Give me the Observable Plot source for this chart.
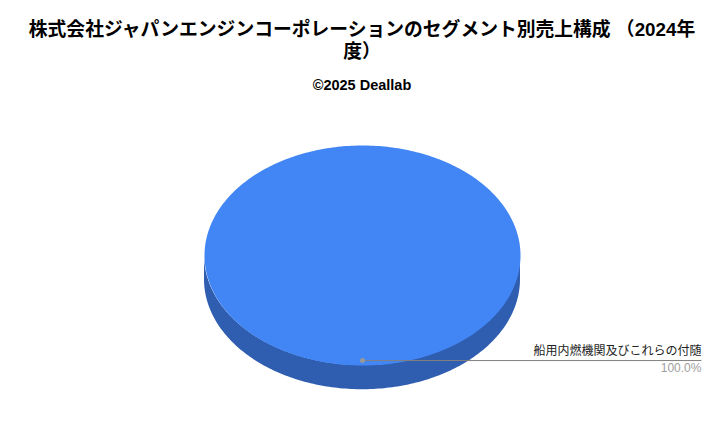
<!DOCTYPE html>
<html><head><meta charset="utf-8">
<script src="https://cdn.jsdelivr.net/npm/d3@7"></script>
<script src="https://cdn.jsdelivr.net/npm/@observablehq/plot@0.6"></script>
<style>
body{margin:0;background:#fff;width:724px;overflow:hidden;font-family:"Liberation Sans",Arial,"Noto Sans CJK JP",sans-serif;}
#head{height:100px;text-align:center;}
#t{font-weight:bold;font-size:18.8px;line-height:22px;padding-top:19px;color:#000;white-space:nowrap;}
#s{font-weight:bold;font-size:14.5px;margin-top:14px;color:#000;}
</style></head>
<body>
<div id="head"><div id="t">株式会社ジャパンエンジンコーポレーションのセグメント別売上構成 （2024年<br>度）</div><div id="s">©2025 Deallab</div></div>
<div id="chart"></div>
<script>
const segments = ["船用内燃機関及びこれらの付随"];
const values = [100];
const percentLabels = ["100.0%"];

const topColor = "#4285f4";
const sideColor = "#2f5eb0";
const depth = 0.22;          // pie thickness in y-domain units
const labelX = 2.145;        // leader line end, in x-domain units

const arcs = d3.pie().sort(null)(values);
const total = d3.sum(values);

// ellipse outline points for each slice
const ring = [];
arcs.forEach((a, i) => {
  const n = 360;
  ring.push({slice: i, x: 0, y: 0});
  for (let k = 0; k <= n; k++) {
    const t = a.startAngle + (a.endAngle - a.startAngle) * k / n;
    ring.push({slice: i, x: Math.sin(t), y: Math.cos(t)});
  }
});
// front side wall (visible lower half)
const side = d3.range(0, 181).map(k => {
  const t = Math.PI + Math.PI * k / 180;
  return {x: Math.cos(t), y1: Math.sin(t), y2: Math.sin(t) - depth};
});
const labels = arcs.map((a, i) => {
  const m = (a.startAngle + a.endAngle) / 2;
  return {x: Math.sin(m) * 0.0, y: Math.cos(m) * 0.955, name: segments[i], pct: percentLabels[i] ?? d3.format(".1%")(values[i] / total)};
});

const chart = Plot.plot({
  width: 724, height: 348,
  marginTop: 0, marginBottom: 0, marginLeft: 0, marginRight: 23,
  x: {domain: [-1, 1], range: [204, 520], axis: null},
  y: {domain: [-1, 1], range: [265, 45], axis: null},
  style: {fontFamily: "'Liberation Sans', Arial, 'Noto Sans CJK JP', sans-serif", background: "white"},
  marks: [
    Plot.areaY(side, {x: "x", y1: "y1", y2: "y2", fill: sideColor, curve: "linear"}),
    Plot.line(ring, {x: "x", y: "y", z: "slice", fill: topColor, stroke: "none", curve: "linear"}),
    Plot.link(labels, {x1: "x", y1: "y", x2: labelX, y2: "y", stroke: "#808080", strokeWidth: 1}),
    Plot.dot(labels, {x: "x", y: "y", r: 2.5, fill: "#999999", stroke: "none"}),
    Plot.text(labels, {x: labelX, y: "y", text: "name", textAnchor: "end", dy: -9, fontSize: 12, fill: "#222222"}),
    Plot.text(labels, {x: labelX, y: "y", text: "pct", textAnchor: "end", dy: 8, fontSize: 12, fill: "#9e9e9e"})
  ]
});
document.getElementById("chart").appendChild(chart);
</script>
</body></html>
